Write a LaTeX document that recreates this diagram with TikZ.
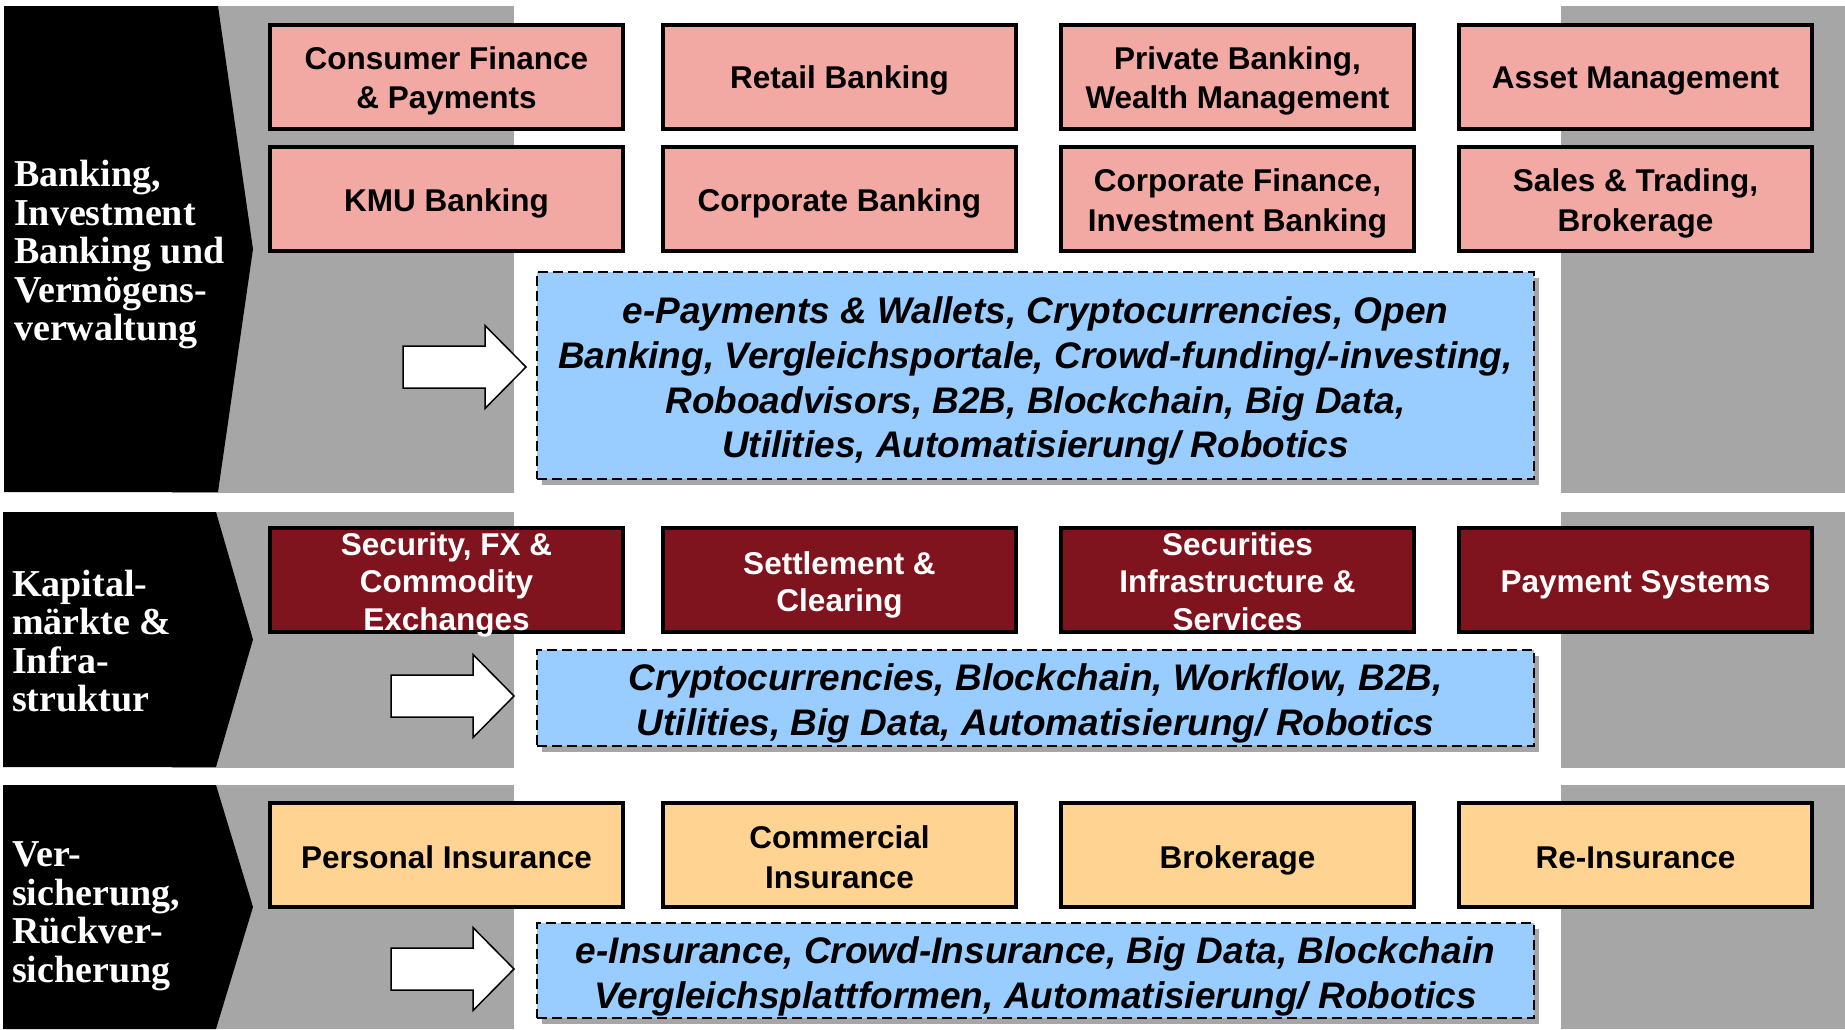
\documentclass[tikz,border=0pt]{standalone}
\usepackage{fontspec}
\setmainfont{Liberation Sans}
\newfontfamily\labfont{Liberation Serif}
\usetikzlibrary{shadows}
\definecolor{cgrey}{HTML}{A6A6A6}
\definecolor{cpink}{HTML}{F2A9A4}
\definecolor{cred}{HTML}{80141E}
\definecolor{corange}{HTML}{FFD391}
\definecolor{cblue}{HTML}{99CCFF}
% centred multi-line text that does not change the size of its node
\newcommand\ctext[2]{\raisebox{#1}[0pt][0pt]{\begin{tabular}{@{}c@{}}#2\end{tabular}}}
\newcommand\ptx[1]{\ctext{-10.75pt}{#1}}
\newcommand\otx[1]{\ctext{-11.6pt}{#1}}
\newcommand\rtx[1]{\ctext{-12pt}{#1}}
\newcommand\btx[1]{\ctext{-12.5pt}{#1}}
\tikzset{
  band/.style={fill=cgrey, draw=none},
  chevron/.style={fill=black, draw=none},
  cell/.style={draw=black, line width=4pt, minimum width=353pt, minimum height=104pt,
    inner sep=0pt, font=\bfseries\fontsize{31.5}{39.5}\selectfont},
  pinkcell/.style={cell, fill=cpink},
  redcell/.style={cell, fill=cred, text=white, font=\bfseries\fontsize{31.5}{37.5}\selectfont},
  orcell/.style={cell, fill=corange},
  tech/.style={draw=black, line width=2pt, dash pattern=on 10pt off 5pt, fill=cblue,
    minimum width=997pt, inner sep=0pt,
    font=\bfseries\itshape\fontsize{37}{44.7}\selectfont,
    drop shadow={shadow xshift=5pt, shadow yshift=-6pt, opacity=0.35, fill=black}},
  sector/.style={text=white, anchor=west, align=left, inner sep=0pt,
    font=\labfont\bfseries\fontsize{38}{38.5}\selectfont},
  arrowshape/.style={draw=black, fill=white, line width=1.5pt, line join=miter},
}
\newcommand\blockarrow[2]{%
  \draw[arrowshape] (#1,#2) ++(0,-21) -- ++(82,0) -- ++(0,-20.5) -- ++(41,41.5)
    -- ++(-41,41.5) -- ++(0,-20.5) -- ++(-82,0) -- cycle;}
\begin{document}
\begin{tikzpicture}[x=1pt, y=-1pt]
\fill[white] (0,0) rectangle (1845,1029);
\useasboundingbox (0,0) rectangle (1845,1029);

% grey bands
\fill[band] (172,6) rectangle (514,493);
\fill[band] (1561,6) rectangle (1845,493);
\fill[band] (172,512) rectangle (514,768);
\fill[band] (1561,512) rectangle (1845,768);
\fill[band] (172,785) rectangle (514,1029);
\fill[band] (1561,785) rectangle (1845,1029);

% chevrons
\fill[chevron] (4,6) -- (218,6) -- (253,249) -- (218,492) -- (4,492) -- cycle;
\fill[chevron] (3,512) -- (216,512) -- (253,639.5) -- (216,767) -- (3,767) -- cycle;
\fill[chevron] (3,785) -- (216,785) -- (253,907) -- (216,1029) -- (3,1029) -- cycle;

% sector labels
\node[sector] (s1) at (14,255) {Banking,\\Investment\\Banking und\\Vermögens-\\verwaltung};
\node[sector] (s2) at (12,641) {Kapital-\\märkte \&\\Infra-\\struktur};
\node[sector] (s3) at (12,916) {Ver-\\sicherung,\\Rückver-\\sicherung};

% section 1 boxes
\node[pinkcell] (a1) at (446.5,76.5) {\ptx{Consumer Finance\\\& Payments}};
\node[pinkcell] (a2) at (839.5,76.5) {\ptx{Retail Banking}};
\node[pinkcell] (a3) at (1237.5,76.5) {\ptx{Private Banking,\\Wealth Management}};
\node[pinkcell] (a4) at (1635.5,76.5) {\ptx{Asset Management}};
\node[pinkcell] (b1) at (446.5,199) {\ptx{KMU Banking}};
\node[pinkcell] (b2) at (839.5,199) {\ptx{Corporate Banking}};
\node[pinkcell] (b3) at (1237.5,199) {\ptx{Corporate Finance,\\Investment Banking}};
\node[pinkcell] (b4) at (1635.5,199) {\ptx{Sales \& Trading,\\Brokerage}};

% section 2 boxes
\node[redcell] (c1) at (446.5,579.5) {\rtx{Security, FX \&\\Commodity\\Exchanges}};
\node[redcell] (c2) at (839.5,579.5) {\rtx{Settlement \&\\Clearing}};
\node[redcell] (c3) at (1237.5,579.5) {\rtx{Securities\\Infrastructure \&\\Services}};
\node[redcell] (c4) at (1635.5,579.5) {\rtx{Payment Systems}};

% section 3 boxes
\node[orcell] (d1) at (446.5,855) {\otx{Personal Insurance}};
\node[orcell] (d2) at (839.5,855) {\otx{Commercial\\Insurance}};
\node[orcell] (d3) at (1237.5,855) {\otx{Brokerage}};
\node[orcell] (d4) at (1635.5,855) {\otx{Re-Insurance}};

% arrows
\blockarrow{403}{367}
\blockarrow{391}{696}
\blockarrow{391}{969}

% technology boxes
\node[tech, minimum height=207pt] (t1) at (1035.5,375.5)
  {\btx{e-Payments \& Wallets, Cryptocurrencies, Open\\Banking, Vergleichsportale, Crowd-funding/-investing,\\Roboadvisors, B2B, Blockchain, Big Data,\\Utilities, Automatisierung/ Robotics}};
\node[tech, minimum height=96pt] (t2) at (1035.5,698)
  {\btx{Cryptocurrencies, Blockchain, Workflow, B2B,\\Utilities, Big Data, Automatisierung/ Robotics}};
\node[tech, minimum height=95pt] (t3) at (1035.5,970.5)
  {\btx{e-Insurance, Crowd-Insurance, Big Data, Blockchain\\Vergleichsplattformen, Automatisierung/ Robotics}};
\end{tikzpicture}
\end{document}
